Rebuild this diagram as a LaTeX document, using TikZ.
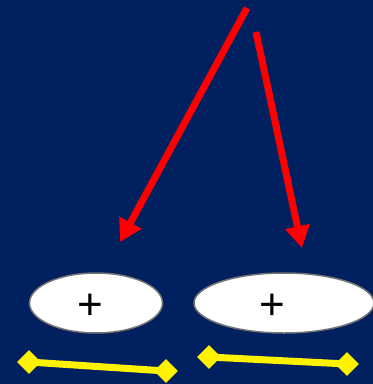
\documentclass[tikz,border=0pt]{standalone}
\usepackage{fontspec}
\setmainfont{Liberation Sans}
\usepackage{xcolor}
\usepackage{tikz}
\usetikzlibrary{shapes.geometric,arrows.meta,positioning,calc}

\definecolor{navybg}{RGB}{0,32,96}

\begin{document}
\begin{tikzpicture}[
    x=1pt, y=-1pt,
    oval/.style={ellipse, draw=gray!90!black, fill=white, line width=1.5pt, inner sep=0pt},
    sign/.style={font=\fontsize{44}{44}\selectfont, inner sep=0pt},
    tip/.style={diamond, fill=yellow, inner sep=0pt, minimum width=24pt, minimum height=24pt},
    arr/.style={-{Triangle[length=22pt,width=24pt]}, line width=7pt, draw=red},
    bar/.style={line width=7pt, draw=yellow}
]
    \fill [navybg] (0,0) rectangle (373,384);
    \useasboundingbox (0,0) rectangle (373,384);

    \node [oval, minimum width=133pt, minimum height=60pt] (e1) at (96,303) {};
    \node [oval, minimum width=180pt, minimum height=60pt] (e2) at (284,303) {};
    \node [sign] (p1) at (90,307) {+};
    \node [sign] (p2) at (272,307) {+};

    \coordinate (s1) at (247,8);
    \coordinate (t1) at (120,242);
    \coordinate (s2) at (256,32);
    \coordinate (t2) at (302,248);
    \draw [arr] (s1) -- (t1);
    \draw [arr] (s2) -- (t2);

    \node [tip] (d1) at (29,362) {};
    \node [tip] (d2) at (166,371) {};
    \node [tip] (d3) at (209,357) {};
    \node [tip] (d4) at (347,364) {};
    \draw [bar] (d1.center) -- (d2.center);
    \draw [bar] (d3.center) -- (d4.center);
\end{tikzpicture}
\end{document}
